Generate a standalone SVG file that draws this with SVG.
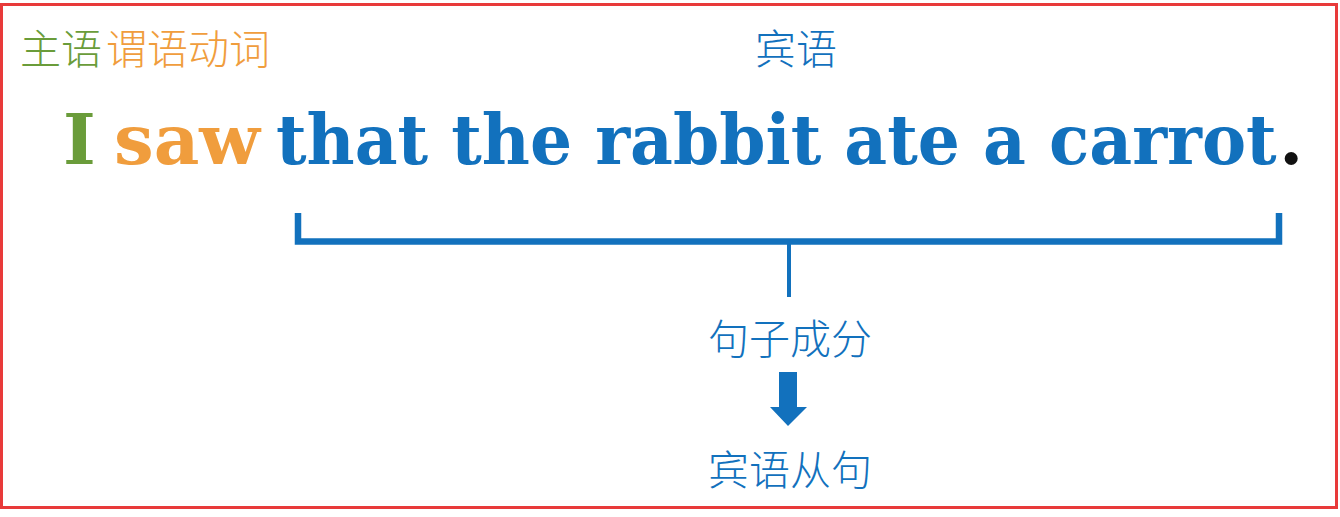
<svg xmlns="http://www.w3.org/2000/svg" width="1340" height="517" viewBox="0 0 1340 517">
<style>
.cjk{font-family:"Noto Sans CJK SC","Noto Sans",sans-serif;font-size:41px;font-weight:300}
.main{font-family:"DejaVu Serif","Liberation Serif",serif;font-size:70px;font-weight:bold}
.green{fill:#6a9c3a}
.orange{fill:#f09d3d}
.blue{fill:#1271bd}
.line{stroke:#1271bd;fill:none}
</style>
<rect x="1.5" y="4.5" width="1335" height="503" fill="#ffffff" stroke="#e83a3a" stroke-width="3"/>
<g id="label-subject-verb">
<text class="cjk green" x="20" y="64">主语</text>
<text class="cjk orange" x="106" y="64">谓语动词</text>
</g>
<g id="label-object">
<text class="cjk blue" x="755" y="64">宾语</text>
</g>
<g id="sentence">
<text class="main green" x="63" y="164">I</text>
<text class="main orange" x="114" y="164" textLength="146" lengthAdjust="spacingAndGlyphs">saw</text>
<text class="main blue" x="0" y="0" transform="translate(276 164) scale(0.946 1)">that the rabbit ate a carrot</text>
<text class="main" x="1279" y="164" fill="#111">.</text>
</g>
<g id="connectors">
<path class="line" d="M298 213 V241.5 H1279 V213" stroke-width="6.5"/>
<path class="line" d="M789 241 V297" stroke-width="4"/>
<path d="M779 372 H797 V407 H807 L788 426 L770 407 H779 Z" fill="#1271bd"/>
</g>
<g id="label-component">
<text class="cjk blue" x="790" y="354" text-anchor="middle">句子成分</text>
</g>
<g id="label-clause">
<text class="cjk blue" x="790" y="485" text-anchor="middle">宾语从句</text>
</g>
</svg>
